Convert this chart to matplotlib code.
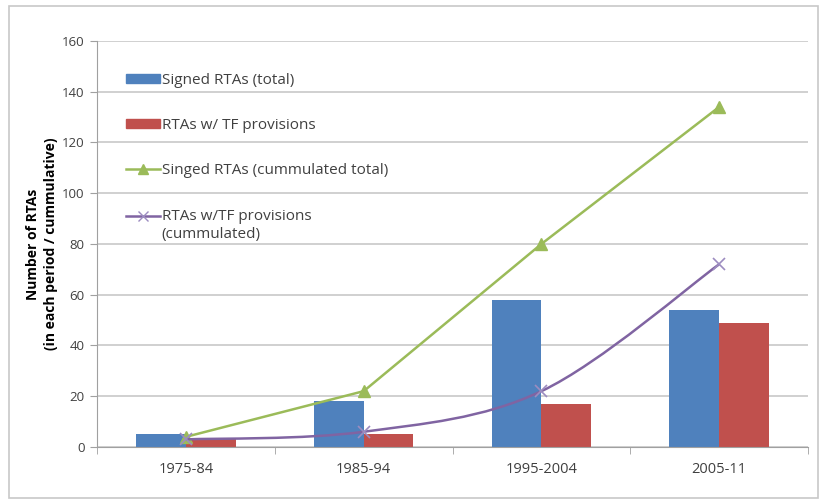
import matplotlib.pyplot as plt
from matplotlib.path import Path
from matplotlib.patches import PathPatch, Rectangle
from matplotlib.lines import Line2D
import numpy as np

plt.rcParams['font.family'] = ['Open Sans', 'DejaVu Sans']

# Daten
perioden = ['1975-84', '1985-94', '1995-2004', '2005-11']
signed_total = [5, 18, 58, 54]
tf_total = [3, 5, 17, 49]
signed_kum = [4, 22, 80, 134]
tf_kum = [3, 6, 22, 72]

blau = '#4F81BD'
rot = '#C0504D'
gruen = '#9BBB59'
lila = '#8064A2'

fig = plt.figure(figsize=(8.23, 5.04), dpi=100)
ax = fig.add_axes([0.1179, 0.1131, 0.8639, 0.8056])

# aeusserer Rahmen
fig.patches.append(Rectangle((0.011, 0.012), 0.983, 0.976, transform=fig.transFigure,
                             fill=False, edgecolor='#C8C8C8', linewidth=1.2))

x = np.arange(len(perioden))
b = 0.28
ax.bar(x - b / 2, signed_total, b, color=blau, zorder=2)
ax.bar(x + b / 2, tf_total, b, color=rot, zorder=2)

ax.plot(x, signed_kum, color=gruen, linewidth=1.8, marker='^', markersize=8, zorder=3)

# geglaettete Linie (Catmull-Rom -> Bezier)
pts = np.column_stack([x, tf_kum]).astype(float)
verts = [tuple(pts[0])]
codes = [Path.MOVETO]
for i in range(len(pts) - 1):
    p0 = pts[i - 1] if i > 0 else pts[i]
    p1 = pts[i]
    p2 = pts[i + 1]
    p3 = pts[i + 2] if i + 2 < len(pts) else pts[i + 1]
    c1 = p1 + (p2 - p0) / 6
    c2 = p2 - (p3 - p1) / 6
    verts += [tuple(c1), tuple(c2), tuple(p2)]
    codes += [Path.CURVE4] * 3
ax.add_patch(PathPatch(Path(verts, codes), facecolor='none', edgecolor=lila,
                       linewidth=1.8, zorder=3))
ax.plot(x, tf_kum, linestyle='none', marker='x', markersize=9, color='#9C8CC0',
        markeredgewidth=1.2, zorder=3)

ax.set_xlim(-0.5, 3.5)
ax.set_ylim(0, 160)
ax.set_yticks(range(0, 161, 20))
ax.set_xticks(x)
ax.set_xticklabels(perioden)
ax.set_xticks(np.arange(-0.5, 4, 1), minor=True)
ax.tick_params(axis='x', which='major', length=0, pad=11, labelsize=10.5, labelcolor='#404040')
ax.tick_params(axis='x', which='minor', length=5, direction='out', color='#A0A0A0')
ax.tick_params(axis='y', length=5, color='#A0A0A0', labelsize=9.5, labelcolor='#404040', pad=4)

ax.grid(axis='y', color='#C8C8C8', linewidth=1.2, zorder=0)
ax.set_axisbelow(True)
for s in ['top', 'right']:
    ax.spines[s].set_visible(False)
for s in ['left', 'bottom']:
    ax.spines[s].set_color('#A0A0A0')

ax.set_ylabel('Number of RTAs\n(in each period / cummulative)', fontsize=10,
              fontweight='bold', labelpad=3, linespacing=1.3)

handles = [
    Rectangle((0, 0), 1, 1, color=blau),
    Rectangle((0, 0), 1, 1, color=rot),
    Line2D([], [], color=gruen, linewidth=1.8, marker='^', markersize=7),
    Line2D([], [], color=lila, linewidth=1.8, marker='x', markersize=7,
           markeredgecolor='#9C8CC0'),
]
labels = ['Signed RTAs (total)', 'RTAs w/ TF provisions', 'Singed RTAs (cummulated total)',
          'RTAs w/TF provisions\n(cummulated)']
leg = ax.legend(handles, labels, loc='upper left', bbox_to_anchor=(0.022, 0.955),
                frameon=False, fontsize=11, handlelength=2.2, handleheight=0.55,
                labelspacing=1.98, handletextpad=0.12)
for t in leg.get_texts():
    t.set_color('#404040')
    t.set_linespacing(1.3)

# Symbol des zweizeiligen Eintrags auf Hoehe der ersten Zeile
h = leg.legend_handles[3]
h.set_ydata(np.asarray(h.get_ydata()) + 7)

fig.savefig('out.png', dpi=100)
